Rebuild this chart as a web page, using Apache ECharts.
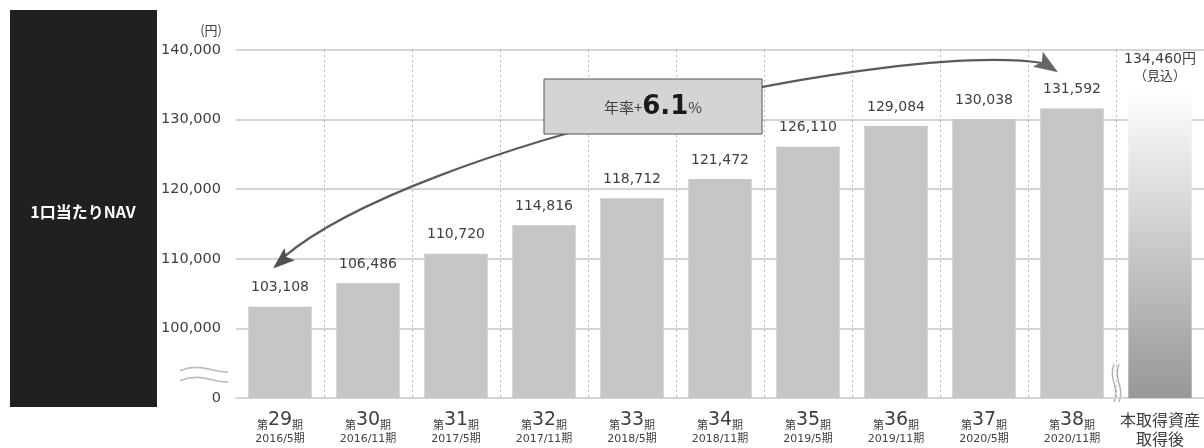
<!DOCTYPE html>
<html>
<head>
<meta charset="utf-8">
<script src="https://cdn.jsdelivr.net/npm/echarts@6/dist/echarts.min.js"></script>
<style>
html, body { margin: 0; padding: 0; background: #fff; }
#main { width: 1204px; height: 448px; }
</style>
</head>
<body>
<div id="main"></div>
<script>
// NAV per unit, fiscal periods 29-38 plus the estimate after acquisition
const periodNo = ['29', '30', '31', '32', '33', '34', '35', '36', '37', '38'];
const periodEnd = ['2016/5期', '2016/11期', '2017/5期', '2017/11期', '2018/5期',
                   '2018/11期', '2019/5期', '2019/11期', '2020/5期', '2020/11期'];
const navValues = [103108, 106486, 110720, 114816, 118712, 121472, 126110, 129084, 130038, 131592];
const afterLabel = ['本取得資産', '取得後'];
const afterValue = 134460;
const afterNote = '（見込）';
// axis is broken: the bottom tick (90,000) is shown as 0
const yMin = 90000, yMax = 140000, yStep = 10000;
const growthText = ['年率+', '6.1', '%'];

const FONT = '"DejaVu Sans", "Noto Sans CJK JP", sans-serif';
const JP = '"Noto Sans CJK JP", sans-serif';

let categories = periodNo.map((n, i) => '第' + n + '期|' + periodEnd[i]);
categories.push(afterLabel.join('|'));

let barData = navValues.slice();
barData.push({
    value: afterValue,
    itemStyle: {
        color: new echarts.graphic.LinearGradient(0, 0, 0, 1, [
            { offset: 0, color: '#ffffff' },
            { offset: 1, color: '#979797' }
        ])
    },
    label: {
        formatter: function (p) {
            return '{v|' + p.value.toLocaleString('en-US') + '円}\n{n|' + afterNote + '}';
        },
        distance: 6,
        rich: {
            v: { fontFamily: FONT, fontSize: 14, color: '#404040', lineHeight: 17 },
            n: { fontFamily: JP, fontSize: 13, color: '#404040', lineHeight: 15 }
        }
    }
});

var chart = echarts.init(document.getElementById('main'));

chart.setOption({
    animation: false,
    backgroundColor: '#fff',
    grid: { left: 236, right: 0, top: 50, bottom: 50 },
    xAxis: {
        type: 'category',
        data: categories,
        axisTick: { show: false },
        axisLine: { lineStyle: { color: '#d4d4d4', width: 2 } },
        splitLine: {
            show: true,
            showMinLine: false,
            showMaxLine: false,
            lineStyle: { color: '#b8b8b8', type: [2, 3], width: 1 }
        },
        axisLabel: {
            margin: 12,
            interval: 0,
            formatter: function (val) {
                let parts = val.split('|');
                if (parts[0].charAt(0) === '第') {
                    let n = parts[0].slice(1, -1);
                    return '{s|第}{n|' + n + '}{s|期}\n{d|' + parts[1] + '}';
                }
                return '{t|' + parts[0] + '}\n{u|' + parts[1] + '}';
            },
            rich: {
                s: { fontFamily: JP, fontSize: 11, color: '#404040', lineHeight: 20, verticalAlign: 'bottom' },
                n: { fontFamily: FONT, fontSize: 19, color: '#404040', lineHeight: 20 },
                d: { fontFamily: FONT, fontSize: 11, color: '#404040', lineHeight: 18 },
                t: { fontFamily: JP, fontSize: 16, color: '#404040', lineHeight: 20 },
                u: { fontFamily: JP, fontSize: 16, color: '#404040', lineHeight: 18 }
            }
        }
    },
    yAxis: {
        type: 'value',
        min: yMin,
        max: yMax,
        interval: yStep,
        name: '(円)',
        nameLocation: 'end',
        nameGap: 13,
        nameTextStyle: { fontFamily: JP, fontSize: 13, color: '#404040', align: 'right', padding: [0, 14, 0, 0] },
        axisLine: { show: false },
        axisTick: { show: false },
        axisLabel: {
            margin: 15,
            fontFamily: FONT,
            fontSize: 14.5,
            color: '#404040',
            formatter: function (v) {
                return v === yMin ? '0' : v.toLocaleString('en-US');
            }
        },
        splitLine: { lineStyle: { color: '#d4d4d4', width: 2 } }
    },
    series: [{
        type: 'bar',
        data: barData,
        barCategoryGap: '28%',
        itemStyle: { color: '#c6c6c6' },
        label: {
            show: true,
            position: 'top',
            distance: 12,
            fontFamily: FONT,
            fontSize: 14,
            color: '#404040',
            formatter: function (p) { return p.value.toLocaleString('en-US'); }
        }
    }]
});

// annotations: left label box, growth arrow, axis-break marks
function px(cat, val) { return chart.convertToPixel({ gridIndex: 0 }, [cat, val]); }

let p0 = px(0, 108600); p0[0] -= 7;
let p3 = px(9, 136800); p3[0] -= 14;
let c1 = [p0[0] + 145, p0[1] - 125];
let c2 = [p3[0] - 158, p3[1] - 32];

function head(tip, from, len, w) {
    let dx = tip[0] - from[0], dy = tip[1] - from[1];
    let l = Math.sqrt(dx * dx + dy * dy);
    dx /= l; dy /= l;
    let bx = tip[0] - dx * len, by = tip[1] - dy * len;
    return [tip, [bx - dy * w, by + dx * w], [tip[0] - dx * len * 0.8, tip[1] - dy * len * 0.8], [bx + dy * w, by - dx * w]];
}

let yBase = px(0, yMin)[1];
let y100 = px(0, 100000)[1];
let sqY = yBase - (yBase - y100) * 0.42;
let gridLeft = 236;
let breakX = px(9, yMin)[0] + 44;

function wave(x0, y0, x1, y1, amp) {
    return { type: 'bezierCurve', silent: true,
        shape: { x1: x0, y1: y0, x2: x1, y2: y1,
                 cpx1: x0 + (x1 - x0) * 0.45, cpy1: y0 - amp,
                 cpx2: x0 + (x1 - x0) * 0.7, cpy2: y1 + amp * 0.2 },
        style: { stroke: '#bdbdbd', lineWidth: 1.6, fill: null } };
}
function vwave(x, y0, y1, amp) {
    return { type: 'bezierCurve', silent: true,
        shape: { x1: x, y1: y0, x2: x, y2: y1,
                 cpx1: x - amp, cpy1: y0 + (y1 - y0) * 0.4,
                 cpx2: x + amp, cpy2: y0 + (y1 - y0) * 0.6 },
        style: { stroke: '#b0b0b0', lineWidth: 1.4, fill: null } };
}

chart.setOption({
    graphic: [
        { type: 'rect', silent: true, shape: { x: 10, y: 10, width: 147, height: 397 },
          style: { fill: '#202020' } },
        { type: 'text', silent: true, x: 83, y: 212,
          style: { text: '1口当たりNAV', fill: '#fff', font: 'bold 16px "Noto Sans CJK JP", sans-serif',
                   align: 'center', verticalAlign: 'middle' } },
        { type: 'bezierCurve', silent: true, z: 10,
          shape: { x1: p0[0] + 10, y1: p0[1] - 11, x2: p3[0] - 14, y2: p3[1] - 9,
                   cpx1: c1[0], cpy1: c1[1], cpx2: c2[0], cpy2: c2[1] },
          style: { stroke: '#5a5a5a', lineWidth: 2.2, fill: null } },
        { type: 'polygon', silent: true, z: 11, shape: { points: head(p0, c1, 22, 8) },
          style: { fill: '#505050' } },
        { type: 'polygon', silent: true, z: 11,
          shape: { points: head(p3, [p3[0] - 20, p3[1] - 13], 24, 9) },
          style: { fill: '#666' } },
        { type: 'rect', silent: true, z: 12, shape: { x: 544, y: 79, width: 218, height: 55 },
          style: { fill: '#d4d4d4', stroke: '#555', lineWidth: 1 } },
        { type: 'text', silent: true, z: 13, x: 653, y: 107,
          style: { text: '{a|' + growthText[0] + '}{b|' + growthText[1] + '}{a|' + growthText[2] + '}',
                   align: 'center', verticalAlign: 'middle',
                   rich: { a: { font: '15px "Noto Sans CJK JP", sans-serif', fill: '#404040' },
                           b: { font: 'bold 26px "DejaVu Sans", sans-serif', fill: '#1a1a1a' } } } },
        wave(gridLeft - 56, sqY + 2, gridLeft - 8, sqY + 3, 9),
        wave(gridLeft - 56, sqY + 12, gridLeft - 8, sqY + 13, 9),
        vwave(breakX - 2, yBase - 34, yBase + 4, 6),
        vwave(breakX + 3, yBase - 34, yBase + 4, 6)
    ]
});
</script>
</body>
</html>
